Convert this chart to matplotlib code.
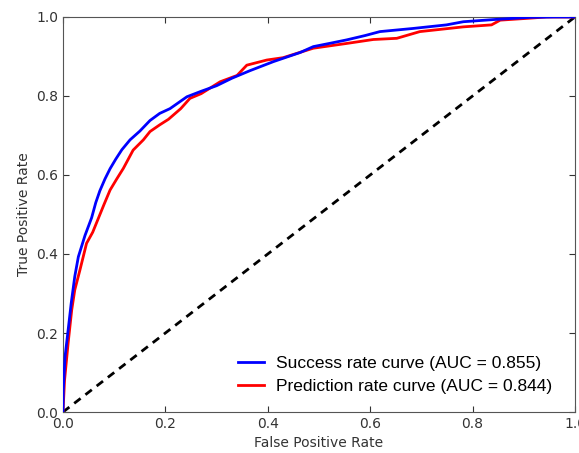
import matplotlib
matplotlib.use('Agg')
from matplotlib import pyplot as plt

# success rate curve (training data)
fpr_success = [0, 0.0006, 0.004, 0.010, 0.016, 0.023, 0.030, 0.043, 0.056, 0.064,
               0.072, 0.082, 0.092, 0.103, 0.115, 0.131, 0.150, 0.170, 0.189, 0.209,
               0.242, 0.270, 0.300, 0.330, 0.365, 0.411, 0.463, 0.489, 0.520, 0.554,
               0.590, 0.619, 0.684, 0.749, 0.782, 0.847, 0.912, 0.960, 1.0]
tpr_success = [0, 0.056, 0.140, 0.207, 0.275, 0.343, 0.393, 0.447, 0.492, 0.530,
               0.560, 0.590, 0.616, 0.640, 0.664, 0.689, 0.711, 0.738, 0.756, 0.768,
               0.798, 0.812, 0.826, 0.845, 0.864, 0.887, 0.910, 0.925, 0.933, 0.942,
               0.953, 0.963, 0.971, 0.980, 0.988, 0.994, 0.999, 1.0, 1.0]

# prediction rate curve (validation data)
fpr_pred = [0, 0.003, 0.010, 0.017, 0.023, 0.033, 0.046, 0.058, 0.069, 0.080,
            0.092, 0.105, 0.118, 0.137, 0.157, 0.170, 0.189, 0.206, 0.230, 0.248,
            0.270, 0.307, 0.340, 0.359, 0.398, 0.430, 0.489, 0.554, 0.606, 0.652,
            0.697, 0.782, 0.837, 0.854, 0.912, 0.944, 1.0]
tpr_pred = [0, 0.080, 0.174, 0.258, 0.309, 0.359, 0.427, 0.455, 0.490, 0.525,
            0.562, 0.590, 0.617, 0.663, 0.689, 0.710, 0.727, 0.741, 0.768, 0.794,
            0.806, 0.836, 0.852, 0.878, 0.891, 0.897, 0.921, 0.933, 0.943, 0.946,
            0.963, 0.975, 0.980, 0.992, 0.997, 1.0, 1.0]

auc_success = 0.855
auc_pred = 0.844

fig = plt.figure(figsize=(5.79, 4.53), dpi=100)
ax = fig.add_axes([0.1088, 0.0905, 0.8842, 0.872])

ax.plot(fpr_pred, tpr_pred, color='r', lw=2, zorder=2,
        label='Prediction rate curve (AUC = %0.3f)' % auc_pred)
ax.plot(fpr_success, tpr_success, color='b', lw=2, zorder=3,
        label='Success rate curve (AUC = %0.3f)' % auc_success)
ax.plot([0, 1], [0, 1], color='k', lw=2, linestyle=(0, (2.9, 2.2)), zorder=1)

ax.set_xlim(0, 1)
ax.set_ylim(0, 1)
ax.set_xticks([0, 0.2, 0.4, 0.6, 0.8, 1.0])
ax.set_yticks([0, 0.2, 0.4, 0.6, 0.8, 1.0])
ax.tick_params(direction='in', top=True, right=True, length=4,
               labelsize=10, colors='#333333', labelcolor='#333333')
for s in ax.spines.values():
    s.set_color('#555555')

ax.set_xlabel('False Positive Rate', fontsize=10, color='#333333')
ax.set_ylabel('True Positive Rate', fontsize=10, color='#333333')

handles, labels = ax.get_legend_handles_labels()
ax.legend(handles[::-1], labels[::-1], loc='lower right', frameon=False,
          bbox_to_anchor=(0.992, 0.0),
          prop={'family': 'Liberation Sans', 'size': 12.5},
          handlelength=1.5, handletextpad=0.7, labelspacing=0.45,
          borderaxespad=0.65)

fig.savefig('out.png', dpi=100)
